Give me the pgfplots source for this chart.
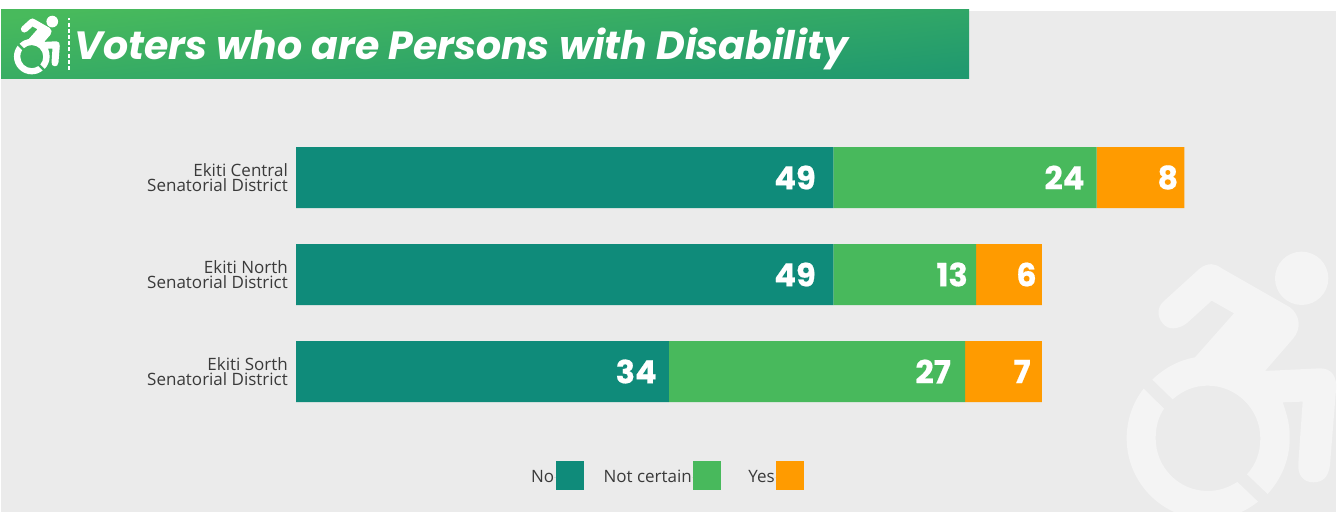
\documentclass[border=0pt]{standalone}
\usepackage{pgfplots}
\pgfplotsset{compat=1.18}
\usepackage{fontspec}
\setmainfont{Open Sans}
\newfontfamily\headfont[BoldFeatures={FakeBold=0.5}]{Poppins}
\definecolor{panel}{HTML}{EBEBEB}
\definecolor{ghost}{HTML}{F4F4F4}
\definecolor{noC}{HTML}{0F8B7A}
\definecolor{notsureC}{HTML}{48B95C}
\definecolor{yesC}{HTML}{FF9B00}
\definecolor{bandA}{HTML}{48BA5C}
\definecolor{bandB}{HTML}{20996F}
\definecolor{inkC}{HTML}{3A3A3A}

% Accessible-wheelchair symbol, drawn in a local frame with y pointing down
\newcommand{\wheelchair}[1]{%
  \fill[#1] (605,145) circle (80);
  \fill[#1]
    (190,215) -- (300,115) .. controls (325,97) and (345,100) .. (365,115)
    -- (570,232) .. controls (600,255) and (605,295) .. (580,325)
    -- (495,423) -- (660,415) .. controls (695,415) and (712,440) .. (708,480)
    -- (690,705) .. controls (685,745) and (665,757) .. (640,757)
    .. controls (610,757) and (592,735) .. (595,700)
    -- (608,515) -- (548,517) .. controls (565,565) and (570,590) .. (569,630)
    .. controls (568,690) and (545,745) .. (503,792)
    -- (441,733) .. controls (468,703) and (481,668) .. (481,625)
    .. controls (481,538) and (410,467) .. (323,467)
    .. controls (285,467) and (250,480) .. (218,508)
    -- (157,449) .. controls (195,412) and (240,390) .. (285,382)
    -- (402,250) -- (335,212) -- (260,280)
    .. controls (235,298) and (205,302) .. (188,280)
    .. controls (170,258) and (172,232) .. (190,215) -- cycle;
  \fill[#1]
    (131,476) -- (192,536) .. controls (175,560) and (167,592) .. (167,625)
    .. controls (167,712) and (236,783) .. (323,783)
    .. controls (357,783) and (385,773) .. (412,756)
    -- (474,815) .. controls (430,850) and (380,868) .. (323,868)
    .. controls (189,868) and (80,759) .. (80,625)
    .. controls (80,570) and (98,518) .. (131,476) -- cycle;
}

\begin{document}
\begin{tikzpicture}[x=1pt,y=1pt]
  % page frame and panel
  \fill[white] (0,0) rectangle (1338,513);
  \fill[panel] (1,1) rectangle (1336,502);
  \begin{scope}
    \clip (1,1) rectangle (1336,502);
    \begin{scope}[shift={(1100,283)},xscale=0.3333,yscale=-0.3333]
      \wheelchair{ghost}
    \end{scope}
  \end{scope}

  % heading band
  \shade[top color=bandA,bottom color=bandB,shading angle=6] (1,434) rectangle (969,503);
  \begin{scope}[shift={(8.1,502)},xscale=0.073,yscale=-0.073]
    \wheelchair{white}
  \end{scope}
  \draw[white,line width=1.4pt,dash pattern=on 4pt off 2.2pt] (69,443) -- (69,495);
  \node[anchor=west,text=white,inner sep=0pt,font=\headfont\bfseries\itshape\fontsize{39.4}{42}\selectfont]
    at (74.5,464.5) {Voters who are Persons with Disability};

  \begin{axis}[
    at={(296pt,93pt)}, anchor=south west,
    scale only axis, width=1042pt, height=291pt,
    xbar stacked, bar width=61pt,
    xmin=0, xmax=95, ymin=-0.5, ymax=2.5, y dir=reverse,
    axis x line=none, axis y line=none, clip=false,
    ytick={0,1,2},
    visualization depends on={rawx \as \segval},
    visualization depends on={\thisrow{gap} \as \seggap},
    nodes near coords,
    every node near coord/.append style={
      anchor=east, text=white, inner sep=0pt,
      font=\headfont\bfseries\fontsize{32}{33}\selectfont,
      /pgf/number format/assume math mode=true,
      xshift={(\segval*10.968/2-\seggap)*1pt}},
    legend style={
      at={(235pt,-346.5pt)}, anchor=west,
      draw=none, fill=none, inner sep=0pt, outer sep=0pt,
      legend plot pos=right, legend columns=3,
      font=\fontsize{17}{18}\selectfont, text=inkC,
      nodes={inner sep=0pt,outer sep=0pt},
      /tikz/column 2/.style={column sep=20pt},
      /tikz/column 4/.style={column sep=27pt},
    },
    legend image code/.code={%
      \path (0pt,0pt) -- (2pt,0pt);
      \fill[#1] (1.5pt,-12.5pt) rectangle (29.5pt,16.5pt);},
  ]
    \addplot[draw=none,fill=noC] table[x=v,y=row] {
      row v  gap
      0   49 17.5
      1   49 17.5
      2   34 12
    };
    \addplot[draw=none,fill=notsureC] table[x=v,y=row] {
      row v  gap
      0   24 12
      1   13 8
      2   27 14
    };
    \addplot[draw=none,fill=yesC] table[x=v,y=row] {
      row v  gap
      0   8  6
      1   6  5
      2   7  11
    };
    \legend{No,Not certain,Yes}
    % district names to the left of the bars
    \foreach \yy/\nm in {0/Ekiti Central,1/Ekiti North,2/Ekiti Sorth}{
      \edef\temp{\noexpand\node[anchor=east,align=right,text=inkC,inner sep=0pt,
        font=\noexpand\fontsize{17}{15}\noexpand\selectfont]
        at (axis cs:0,\yy) [xshift=-8pt] {\nm\noexpand\\Senatorial District};}
      \temp
    }
  \end{axis}
\end{tikzpicture}
\end{document}
